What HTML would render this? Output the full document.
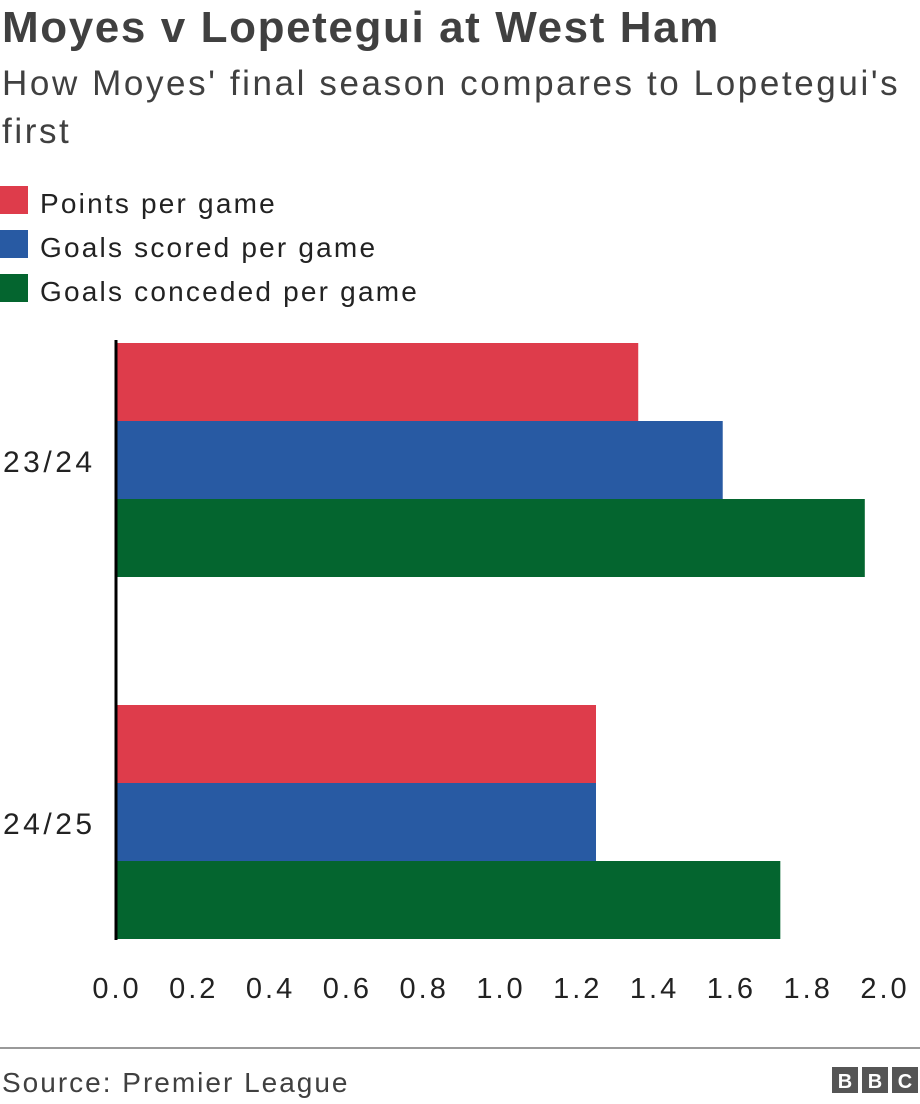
<!DOCTYPE html>
<html><head><meta charset="utf-8"><style>
body{margin:0;width:920px;height:1104px;background:#fff;font-family:"Liberation Sans",Arial,sans-serif;color:#222;position:relative;overflow:hidden}
.t{position:absolute;left:2px;white-space:nowrap}
</style></head><body>
<div class="t" style="top:3px;font-size:44px;font-weight:bold;color:#404040;letter-spacing:1.6px">Moyes v Lopetegui at West Ham</div>
<div class="t" style="top:60px;font-size:35px;color:#404040;line-height:48px;letter-spacing:2.6px">How Moyes' final season compares to Lopetegui's<br>first</div>
<svg id="c" width="920" height="1104" style="position:absolute;left:0;top:0"></svg>
<script>
const categories=["23/24","24/25"];
const seriesNames=["Points per game","Goals scored per game","Goals conceded per game"];
const colors=["#de3c4b","#285aa3","#04652f"];
const pointsPerGame=[1.36,1.25];
const goalsScored=[1.58,1.25];
const goalsConceded=[1.95,1.73];
const ticks=["0.0","0.2","0.4","0.6","0.8","1.0","1.2","1.4","1.6","1.8","2.0"];
const series=[pointsPerGame,goalsScored,goalsConceded];
const svg=document.getElementById('c');const NS="http://www.w3.org/2000/svg";
function mk(tag,a,txt){const e=document.createElementNS(NS,tag);for(const k in a)e.setAttribute(k,a[k]);if(txt!==undefined)e.textContent=txt;svg.appendChild(e);return e;}
const x=v=>116+v*384;
const groupTop=[343,705],bh=78;
seriesNames.forEach((n,i)=>{
 const r=mk('rect',{x:0,y:186+i*44,width:28,height:28,fill:colors[i]});
 
 
 const t=mk('text',{x:40,y:213+i*44,'font-size':28,fill:'#222','letter-spacing':2.2},n);
 
 
});
categories.forEach((c,g)=>{
 series.forEach((s,i)=>{
  const r=mk('rect',{x:x(0),y:groupTop[g]+i*bh,width:x(s[g])-x(0),height:bh,fill:colors[i]});
  
  
 });
 const t=mk('text',{x:3,y:groupTop[g]+bh*1.5+12,'font-size':30,fill:'#222','letter-spacing':3.5},c);
 
 
});
const ax=mk('line',{x1:116,y1:340,x2:116,y2:940,stroke:'#000','stroke-width':3});


ticks.forEach(tk=>{
 const t=mk('text',{x:x(parseFloat(tk))+1,y:998,'font-size':29,fill:'#222','text-anchor':'middle','letter-spacing':3},tk);
 
 
});
const fl=mk('line',{x1:0,y1:1048,x2:920,y2:1048,stroke:'#999','stroke-width':2});


const src=mk('text',{x:2,y:1092,'font-size':28,fill:'#404040','letter-spacing':2},'Source: Premier League');


['B','B','C'].forEach((l,i)=>{
 const r=mk('rect',{x:832+i*30,y:1067,width:26,height:26,fill:'#555'});
 
 
 const t=mk('text',{x:845+i*30,y:1088,'font-size':20,'font-weight':'bold',fill:'#fff','text-anchor':'middle'},l);
 
 
});
</script>
</body></html>
